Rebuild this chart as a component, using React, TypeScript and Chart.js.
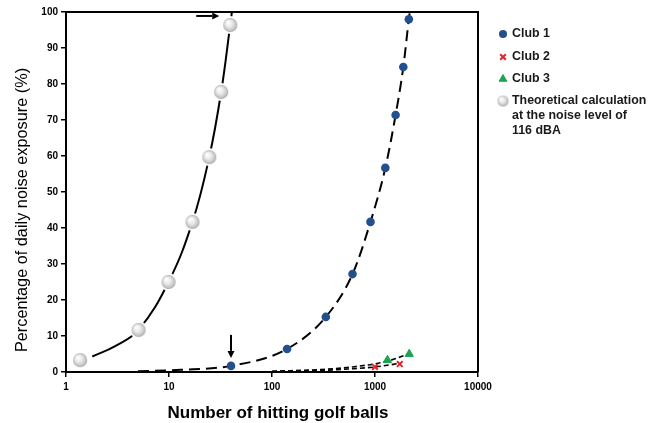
import React, { useEffect, useRef } from 'react';
import { Chart, registerables } from 'chart.js';
import { drawPoint } from 'chart.js/helpers';

Chart.register(...registerables);

const FONT = '"Liberation Sans", Arial, Helvetica, sans-serif';

// ---- data ----
const xTickValues = [1, 10, 100, 1000, 10000];

const club1X = [40, 140, 333, 605, 904, 1260, 1585, 1883, 2130];
const club1Y = [1.7, 6.4, 15.3, 27.2, 41.7, 56.7, 71.4, 84.7, 98];

const club2X = [1000, 1740];
const club2Y = [1.4, 2.2];

const club3X = [1320, 2150];
const club3Y = [3.3, 5.0];

const theoX = [1.37, 5.07, 9.9, 16.9, 24.6, 32.1, 39.3];
const theoY = [3.3, 11.7, 25, 41.7, 59.7, 77.8, 96.4];

// fitted curves
const theoTrendX = [1.8, 3, 5.07, 9.9, 16.9, 24.6, 32.1, 39.3, 40.8];
const theoTrendY = [4.3, 7.2, 11.7, 25, 41.7, 59.7, 77.8, 96.4, 100];
const club1TrendX = [5, 13, 40, 140, 333, 605, 904, 1260, 1585, 1883, 2130, 2175];
const club1TrendY = [0.2, 0.6, 1.7, 6.4, 15.3, 27.2, 41.7, 56.7, 71.4, 84.7, 98, 100];
const club2TrendX = [100, 300, 600, 1000, 1740];
const club2TrendY = [0.15, 0.45, 0.9, 1.4, 2.4];
const club3TrendX = [100, 300, 600, 1320, 2200];
const club3TrendY = [0.2, 0.7, 1.4, 3.0, 5.2];

// arrows point at these data points
const arrowTargets = [
  { x: 39.3, y: 96.4, dir: 'right' },
  { x: 40, y: 1.7, dir: 'down' },
];

const legendLabels: (string | string[])[] = [
  'Club 1',
  'Club 2',
  'Club 3',
  ['Theoretical calculation', 'at the noise level of', '116 dBA'],
];

const xTitle = 'Number of hitting golf balls';
const yTitle = 'Percentage of daily noise exposure (%)';

const BLUE = '#244f8d';
const RED = '#e3242b';
const GREEN = '#1ea34f';

const pts = (xs: number[], ys: number[]) => xs.map((x, i) => ({ x, y: ys[i] }));

function makeSphere(r: number, halo: number) {
  const size = Math.ceil((r + halo) * 2 + 2);
  const c = document.createElement('canvas');
  c.width = size;
  c.height = size;
  const g = c.getContext('2d')!;
  const cx = size / 2;
  if (halo > 0) {
    g.fillStyle = '#ffffff';
    g.beginPath();
    g.arc(cx, cx, r + halo, 0, Math.PI * 2);
    g.fill();
  }
  const grad = g.createRadialGradient(cx - r * 0.35, cx - r * 0.4, r * 0.05, cx, cx, r);
  grad.addColorStop(0, '#ffffff');
  grad.addColorStop(0.45, '#ebebeb');
  grad.addColorStop(0.85, '#c4c4c4');
  grad.addColorStop(1, '#a0a0a0');
  g.fillStyle = grad;
  g.beginPath();
  g.arc(cx, cx, r, 0, Math.PI * 2);
  g.fill();
  return c;
}

export default function App() {
  const ref = useRef<HTMLCanvasElement | null>(null);

  useEffect(() => {
    document.body.style.margin = '0';
    const canvas = ref.current!;
    const sphere = makeSphere(7, 2);
    const legendSphere = makeSphere(5.5, 0);

    const framePlugin = {
      id: 'frame',
      afterDraw(chart: any) {
        const { ctx, chartArea: a } = chart;
        ctx.save();
        ctx.strokeStyle = '#000';
        ctx.lineWidth = 2;
        ctx.beginPath();
        ctx.moveTo(a.left, a.top);
        ctx.lineTo(a.right, a.top);
        ctx.lineTo(a.right, a.bottom);
        ctx.stroke();
        ctx.restore();
      },
    };

    const arrowPlugin = {
      id: 'arrows',
      afterDatasetsDraw(chart: any) {
        const { ctx } = chart;
        const xs = chart.scales.x;
        const ys = chart.scales.y;
        ctx.save();
        ctx.strokeStyle = '#000';
        ctx.fillStyle = '#000';
        ctx.lineWidth = 2;
        arrowTargets.forEach((t) => {
          const px = xs.getPixelForValue(t.x);
          const py = ys.getPixelForValue(t.y);
          let tipX: number, tipY: number, tailX: number, tailY: number;
          if (t.dir === 'right') {
            tipX = px - 11; tipY = py - 9; tailX = tipX - 23; tailY = tipY;
          } else {
            tipX = px; tipY = py - 8; tailX = tipX; tailY = tipY - 23;
          }
          const ang = Math.atan2(tipY - tailY, tipX - tailX);
          const hl = 7, hw = 3.5;
          const bx = tipX - hl * Math.cos(ang);
          const by = tipY - hl * Math.sin(ang);
          ctx.beginPath();
          ctx.moveTo(tailX, tailY);
          ctx.lineTo(bx, by);
          ctx.stroke();
          ctx.beginPath();
          ctx.moveTo(tipX, tipY);
          ctx.lineTo(bx - hw * Math.sin(ang), by + hw * Math.cos(ang));
          ctx.lineTo(bx + hw * Math.sin(ang), by - hw * Math.cos(ang));
          ctx.closePath();
          ctx.fill();
        });
        ctx.restore();
      },
    };

    const titlePlugin = {
      id: 'titles',
      afterDraw(chart: any) {
        const { ctx, chartArea: a } = chart;
        ctx.save();
        ctx.fillStyle = '#000';
        ctx.textAlign = 'center';
        ctx.textBaseline = 'middle';
        ctx.font = `bold 17px ${FONT}`;
        ctx.fillText(xTitle, (a.left + a.right) / 2 + 6, 413);
        ctx.translate(23, (a.top + a.bottom) / 2 + 18);
        ctx.rotate(-Math.PI / 2);
        ctx.font = `16.3px ${FONT}`;
        ctx.fillText(yTitle, 0, 0);
        ctx.restore();
      },
    };

    const legendPlugin = {
      id: 'customLegend',
      afterDraw(chart: any) {
        const { ctx, chartArea: a } = chart;
        const mx = a.right + 25;
        const tx = a.right + 34;
        const rows = [a.top + 22, a.top + 45, a.top + 67, a.top + 89];
        const lineH = 15;
        ctx.save();
        ctx.fillStyle = BLUE;
        ctx.strokeStyle = BLUE;
        drawPoint(ctx, { pointStyle: 'circle', radius: 4, borderWidth: 0, rotation: 0 } as any, mx, rows[0]);
        ctx.strokeStyle = RED;
        ctx.lineWidth = 2;
        drawPoint(ctx, { pointStyle: 'crossRot', radius: 4, borderWidth: 2, rotation: 0 } as any, mx, rows[1]);
        ctx.fillStyle = GREEN;
        ctx.strokeStyle = GREEN;
        ctx.lineWidth = 1;
        drawPoint(ctx, { pointStyle: 'triangle', radius: 4.5, borderWidth: 1, rotation: 0 } as any, mx, rows[2]);
        ctx.drawImage(legendSphere, mx - legendSphere.width / 2, rows[3] - legendSphere.height / 2);
        ctx.fillStyle = '#1a1a1a';
        ctx.font = `bold 12.4px ${FONT}`;
        ctx.textAlign = 'left';
        ctx.textBaseline = 'middle';
        legendLabels.forEach((lab, i) => {
          const lines = Array.isArray(lab) ? lab : [lab];
          lines.forEach((ln, j) => ctx.fillText(ln, tx, rows[i] + j * lineH));
        });
        ctx.restore();
      },
    };

    const trendBase = {
      showLine: true,
      pointRadius: 0,
      borderColor: '#000',
      backgroundColor: '#000',
      cubicInterpolationMode: 'monotone' as const,
      order: 2,
    };

    const chart = new Chart(canvas, {
      type: 'scatter',
      data: {
        datasets: [
          {
            label: 'Club 1',
            data: pts(club1X, club1Y),
            pointStyle: 'circle',
            pointRadius: 4.3,
            backgroundColor: BLUE,
            borderColor: BLUE,
            borderWidth: 0,
            order: 0,
          },
          {
            label: 'Club 2',
            data: pts(club2X, club2Y),
            pointStyle: 'crossRot',
            pointRadius: 4,
            borderColor: RED,
            backgroundColor: RED,
            borderWidth: 2,
            order: 0,
          },
          {
            label: 'Club 3',
            data: pts(club3X, club3Y),
            pointStyle: 'triangle',
            pointRadius: 4.8,
            borderColor: GREEN,
            backgroundColor: GREEN,
            borderWidth: 1,
            order: 0,
          },
          {
            label: 'Theoretical calculation at the noise level of 116 dBA',
            data: pts(theoX, theoY),
            pointStyle: sphere,
            pointRadius: 7,
            order: 0,
          },
          {
            ...trendBase,
            label: 'theo fit',
            data: pts(theoTrendX, theoTrendY),
            borderWidth: 2,
            cubicInterpolationMode: 'default',
            tension: 0.4,
          },
          {
            ...trendBase,
            label: 'club1 fit',
            data: pts(club1TrendX, club1TrendY),
            borderWidth: 2,
            borderDash: [11, 6],
          },
          {
            ...trendBase,
            label: 'club2 fit',
            data: pts(club2TrendX, club2TrendY),
            borderWidth: 1.6,
            borderDash: [5, 3],
          },
          {
            ...trendBase,
            label: 'club3 fit',
            data: pts(club3TrendX, club3TrendY),
            borderWidth: 1.6,
            borderDash: [5, 3],
          },
        ] as any,
      },
      options: {
        responsive: false,
        animation: false,
        events: [],
        layout: { padding: { top: 12, right: 172, bottom: 0, left: 0 } },
        plugins: {
          legend: { display: false },
          tooltip: { enabled: false },
          title: { display: false },
        },
        scales: {
          x: {
            type: 'logarithmic',
            min: 1,
            max: 10000,
            afterFit: (s: any) => { s.height = 51; },
            afterBuildTicks: (s: any) => { s.ticks = xTickValues.map((v) => ({ value: v })); },
            ticks: {
              autoSkip: false,
              maxRotation: 0,
              padding: 4,
              color: '#000',
              font: { family: FONT, size: 10, weight: 'bold' },
              callback: (v: any) => String(v),
            },
            grid: { drawOnChartArea: false, drawTicks: true, tickLength: 5, color: '#000', lineWidth: 1.5 },
            border: { color: '#000', width: 2 },
          },
          y: {
            type: 'linear',
            min: 0,
            max: 100,
            afterFit: (s: any) => { s.width = 66; },
            ticks: {
              stepSize: 10,
              padding: 3,
              color: '#000',
              font: { family: FONT, size: 10, weight: 'bold' },
            },
            grid: { drawOnChartArea: false, drawTicks: true, tickLength: 5, color: '#000', lineWidth: 1.5 },
            border: { color: '#000', width: 2 },
          },
        },
      } as any,
      plugins: [framePlugin, arrowPlugin, titlePlugin, legendPlugin],
    });

    return () => chart.destroy();
  }, []);

  return (
    <div style={{ width: 650, height: 423, background: '#fff' }}>
      <canvas ref={ref} width={650} height={423} style={{ display: 'block' }} />
    </div>
  );
}
